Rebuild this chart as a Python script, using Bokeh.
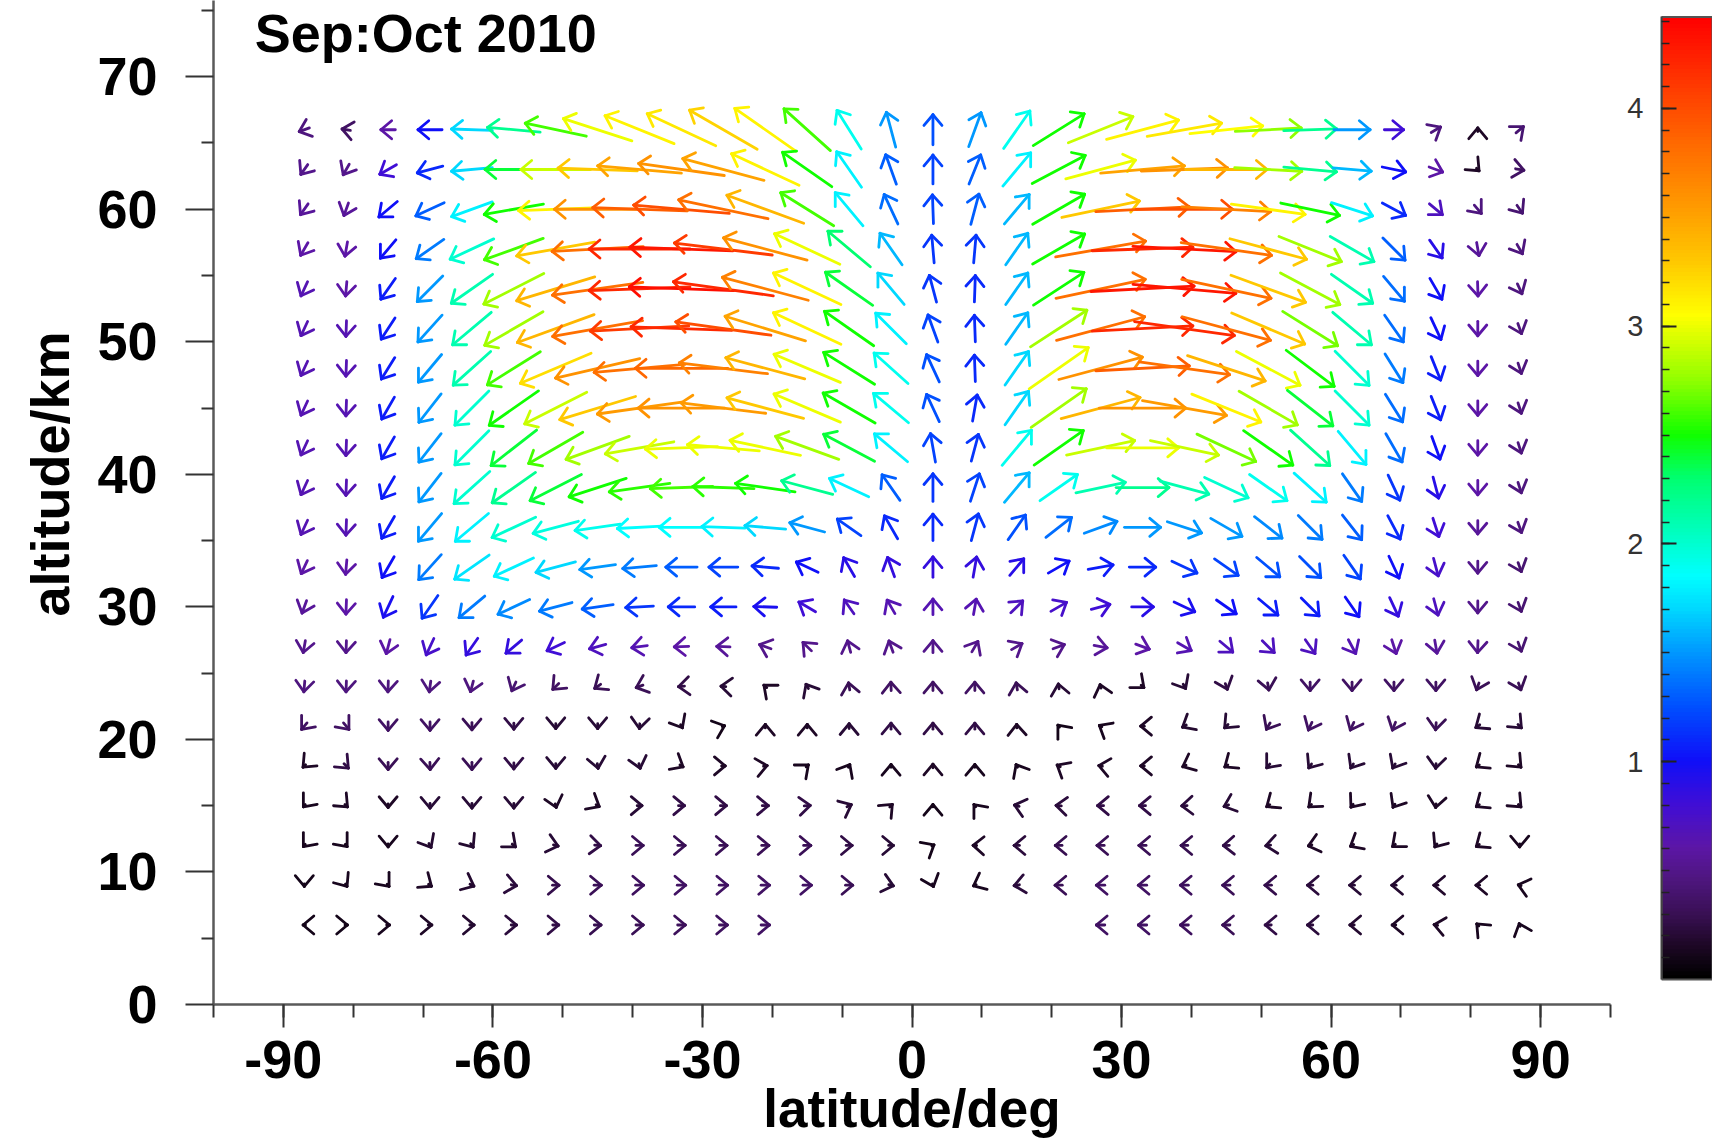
import numpy as np
from bokeh.plotting import figure
from bokeh.models import ColumnDataSource, Range1d, FixedTicker, Label, LinearColorMapper, LinearAxis, Title
from bokeh.layouts import row
from bokeh.embed import file_html
from bokeh.resources import INLINE

# ---------------- data ----------------
TITLE = "Sep:Oct 2010"
X_LABEL = "latitude/deg"
Y_LABEL = "altitude/km"
LATS = [-87, -81, -75, -69, -63, -57, -51, -45, -39, -33, -27, -21, -15, -9, -3,
        3, 9, 15, 21, 27, 33, 39, 45, 51, 57, 63, 69, 75, 81, 87]
X_TICKS = [-90, -60, -30, 0, 30, 60, 90]
X_TICK_LABELS = ["-90", "-60", "-30", "0", "30", "60", "90"]
Y_TICKS = [0, 10, 20, 30, 40, 50, 60, 70]
CB_TICKS = [1, 2, 3, 4]
SPEED_MAX = 4.42

# speed (colour scale units) and screen direction (deg, 0 = right, 90 = up) per altitude row
S66 = [0.45, 0.35, 0.6, 1.0, 1.7, 2.2, 2.6, 3.0, 3.1, 3.15, 3.25, 3.1, 2.6, 1.9, 1.5, 1.25, 1.5, 1.9, 2.5, 2.9, 3.1, 3.15, 3.05, 2.75, 2.2, 1.5, 0.8, 0.45, 0.15, 0.4]
D66 = [200, 170, 180, 180, 178, 175, 168, 162, 158, 155, 150, 145, 138, 122, 105, 90, 70, 55, 32, 22, 15, 10, 6, 3, 2, 0, 0, 30, 90, 40]
S63 = [0.5, 0.5, 0.8, 1.1, 1.7, 2.4, 2.9, 3.3, 3.5, 3.6, 3.5, 3.1, 2.5, 1.8, 1.3, 1.2, 1.3, 1.8, 2.5, 3.0, 3.5, 3.6, 3.4, 2.8, 2.2, 1.6, 1.0, 0.6, 0.15, 0.35]
D63 = [235, 240, 210, 195, 185, 180, 180, 178, 175, 172, 165, 155, 145, 125, 110, 90, 68, 50, 28, 15, 5, 2, 0, -3, -5, -5, -12, -20, -45, -10]
S60 = [0.55, 0.55, 1.0, 1.3, 1.8, 2.5, 3.1, 3.6, 3.9, 4.0, 3.8, 3.4, 2.6, 1.8, 1.35, 1.2, 1.3, 1.6, 2.5, 3.3, 3.9, 4.0, 3.7, 3.1, 2.5, 1.8, 1.1, 0.7, 0.45, 0.4]
D60 = [235, 250, 220, 205, 200, 190, 182, 180, 178, 175, 168, 160, 148, 130, 115, 92, 75, 50, 30, 12, 3, 0, -3, -8, -12, -18, -28, -40, -50, -55]
S57 = [0.6, 0.6, 1.0, 1.4, 2.0, 2.6, 3.3, 3.8, 4.2, 4.3, 4.1, 3.6, 3.0, 2.3, 1.6, 1.15, 1.15, 1.6, 2.5, 3.8, 4.2, 4.3, 3.8, 3.3, 2.8, 2.1, 1.3, 0.9, 0.55, 0.45]
D57 = [240, 260, 230, 215, 205, 200, 190, 183, 180, 178, 173, 165, 155, 140, 125, 95, 85, 55, 30, 10, 2, -3, -8, -15, -22, -30, -45, -55, -80, -60]
S54 = [0.65, 0.6, 1.05, 1.5, 2.1, 2.8, 3.4, 3.8, 4.2, 4.35, 4.2, 3.7, 3.1, 2.4, 1.7, 1.15, 1.1, 1.6, 2.5, 3.8, 4.3, 4.3, 3.8, 3.3, 2.8, 2.1, 1.35, 1.0, 0.6, 0.45]
D54 = [245, 265, 235, 225, 215, 207, 197, 188, 182, 178, 172, 165, 155, 145, 130, 105, 88, 55, 33, 12, 3, -5, -12, -20, -28, -35, -50, -60, -88, -65]
S51 = [0.65, 0.65, 1.05, 1.5, 2.1, 2.8, 3.4, 3.8, 4.1, 4.2, 4.0, 3.5, 3.1, 2.5, 1.8, 1.2, 1.1, 1.6, 2.8, 3.8, 4.2, 4.2, 3.8, 3.3, 2.7, 2.1, 1.35, 1.0, 0.6, 0.45]
D51 = [245, 268, 237, 228, 220, 210, 200, 190, 183, 178, 172, 163, 155, 145, 135, 110, 92, 55, 33, 15, 3, -8, -15, -23, -32, -40, -55, -65, -90, -70]
S48 = [0.65, 0.65, 1.05, 1.5, 2.1, 2.6, 3.2, 3.6, 3.8, 3.85, 3.7, 3.4, 3.0, 2.5, 1.9, 1.25, 1.1, 1.7, 3.0, 3.6, 3.9, 3.8, 3.4, 3.0, 2.5, 2.0, 1.4, 1.05, 0.6, 0.45]
D48 = [245, 268, 238, 230, 222, 212, 203, 193, 185, 180, 173, 165, 157, 148, 138, 115, 92, 55, 35, 15, 3, -8, -18, -28, -37, -45, -58, -68, -90, -72]
S45 = [0.65, 0.65, 1.05, 1.5, 2.0, 2.5, 2.9, 3.3, 3.55, 3.6, 3.55, 3.3, 3.0, 2.5, 1.9, 1.25, 1.1, 1.7, 2.8, 3.4, 3.6, 3.55, 3.1, 2.8, 2.4, 2.0, 1.35, 1.05, 0.6, 0.45]
D45 = [245, 268, 240, 232, 225, 215, 207, 197, 188, 180, 173, 165, 157, 150, 140, 115, 80, 55, 35, 15, 0, -10, -22, -30, -38, -45, -58, -68, -90, -72]
S42 = [0.65, 0.65, 1.05, 1.5, 2.0, 2.4, 2.6, 2.8, 2.9, 3.0, 3.0, 3.0, 2.8, 2.4, 1.8, 1.2, 1.15, 1.9, 2.5, 2.9, 3.0, 2.9, 2.7, 2.5, 2.2, 1.8, 1.35, 1.0, 0.6, 0.45]
D42 = [245, 268, 240, 232, 225, 218, 210, 200, 190, 182, 175, 168, 160, 152, 140, 100, 75, 50, 35, 12, 0, -12, -25, -35, -42, -50, -60, -70, -90, -72]
S39 = [0.65, 0.65, 1.05, 1.5, 2.0, 2.2, 2.4, 2.5, 2.55, 2.6, 2.55, 2.5, 2.2, 1.8, 1.3, 1.15, 1.2, 1.6, 1.9, 2.1, 2.2, 2.1, 2.0, 1.9, 1.8, 1.4, 1.15, 0.9, 0.6, 0.45]
D39 = [245, 268, 240, 232, 222, 215, 207, 198, 188, 182, 178, 172, 165, 155, 125, 90, 72, 50, 35, 12, 0, -15, -25, -35, -42, -55, -65, -75, -90, -72]
S36 = [0.65, 0.65, 1.05, 1.5, 1.8, 2.0, 1.95, 1.9, 1.85, 1.85, 1.8, 1.7, 1.5, 1.2, 1.1, 1.1, 1.15, 1.25, 1.35, 1.45, 1.5, 1.5, 1.5, 1.45, 1.4, 1.3, 1.1, 0.8, 0.55, 0.45]
D36 = [245, 268, 240, 230, 220, 205, 195, 188, 183, 180, 178, 175, 165, 145, 120, 90, 75, 55, 38, 20, 0, -18, -30, -38, -45, -52, -62, -72, -90, -70]
S33 = [0.6, 0.6, 1.0, 1.4, 1.75, 1.8, 1.7, 1.5, 1.4, 1.3, 1.2, 1.1, 1.0, 0.9, 0.85, 0.85, 0.85, 0.9, 1.0, 1.05, 1.1, 1.15, 1.2, 1.25, 1.25, 1.2, 1.0, 0.75, 0.5, 0.4]
D33 = [245, 265, 240, 228, 215, 205, 195, 188, 185, 180, 180, 175, 155, 120, 110, 90, 80, 50, 30, 10, 0, -25, -35, -40, -45, -55, -65, -75, -90, -70]
S30 = [0.55, 0.6, 0.95, 1.15, 1.4, 1.45, 1.4, 1.3, 1.15, 1.1, 1.05, 0.95, 0.8, 0.7, 0.65, 0.65, 0.65, 0.7, 0.75, 0.8, 0.9, 0.95, 1.0, 1.05, 1.05, 1.0, 0.85, 0.7, 0.5, 0.4]
D30 = [250, 268, 245, 235, 220, 205, 195, 188, 183, 180, 180, 178, 150, 125, 120, 90, 80, 45, 30, 15, 0, -25, -35, -40, -45, -55, -65, -75, -90, -70]
S27 = [0.5, 0.5, 0.6, 0.75, 0.85, 0.85, 0.8, 0.7, 0.65, 0.6, 0.55, 0.5, 0.5, 0.5, 0.5, 0.5, 0.5, 0.5, 0.5, 0.55, 0.6, 0.65, 0.7, 0.7, 0.7, 0.65, 0.6, 0.55, 0.5, 0.4]
D27 = [260, 268, 255, 245, 235, 220, 205, 195, 188, 182, 178, 160, 135, 105, 110, 90, 60, 30, 20, -10, -20, -30, -40, -45, -55, -62, -72, -80, -92, -70]
S24 = [0.45, 0.45, 0.45, 0.45, 0.45, 0.4, 0.35, 0.3, 0.3, 0.25, 0.2, 0.15, 0.2, 0.3, 0.35, 0.35, 0.35, 0.3, 0.2, 0.15, 0.15, 0.2, 0.25, 0.3, 0.35, 0.35, 0.35, 0.35, 0.3, 0.3]
D24 = [265, 268, 268, 262, 255, 245, 225, 215, 200, 185, 175, 140, 120, 100, 92, 90, 90, 100, 100, 105, -40, -60, -70, -80, -90, -90, -90, -90, 250, -70]
S21 = [0.35, 0.35, 0.35, 0.35, 0.3, 0.25, 0.2, 0.2, 0.2, 0.15, 0.1, 0.15, 0.15, 0.2, 0.25, 0.25, 0.25, 0.15, 0.1, 0.12, 0.15, 0.18, 0.2, 0.3, 0.35, 0.35, 0.35, 0.3, 0.2, 0.2]
D21 = [230, -50, -90, -90, -90, -90, -90, -90, -95, -60, 20, 90, 90, 90, 90, 90, 90, 92, 130, 150, 180, 210, 225, 240, 245, 245, 248, 265, 215, -45]
S18 = [0.15, 0.25, 0.3, 0.3, 0.3, 0.25, 0.2, 0.2, 0.2, 0.15, 0.15, 0.15, 0.12, 0.12, 0.12, 0.15, 0.12, 0.12, 0.15, 0.15, 0.15, 0.15, 0.15, 0.2, 0.2, 0.2, 0.2, 0.2, 0.15, 0.15]
D18 = [225, -45, -90, -88, -90, -90, -90, -80, -75, -30, 0, 10, 40, 60, 90, 90, 90, 120, 150, 170, 180, 205, 215, 230, 235, 238, 240, 265, 215, -45]
S15 = [0.12, 0.15, 0.15, 0.2, 0.2, 0.2, 0.15, 0.15, 0.2, 0.25, 0.25, 0.25, 0.25, 0.2, 0.15, 0.1, 0.12, 0.2, 0.22, 0.25, 0.25, 0.22, 0.2, 0.15, 0.15, 0.15, 0.15, 0.15, 0.15, 0.15]
D15 = [230, -45, -90, -90, -90, -90, -75, -30, 0, 0, 0, 0, 5, 25, 45, 90, 130, 165, 175, 180, 180, 183, 200, 215, 222, 232, 238, 262, 215, -45]
S12 = [0.12, 0.12, 0.12, 0.18, 0.18, 0.18, 0.2, 0.25, 0.3, 0.3, 0.3, 0.3, 0.3, 0.25, 0.2, 0.1, 0.15, 0.22, 0.28, 0.3, 0.3, 0.28, 0.25, 0.2, 0.15, 0.15, 0.15, 0.15, 0.15, 0.12]
D12 = [230, -50, -90, -60, -55, -40, -15, -5, 0, 0, 0, 0, 0, 0, 0, 30, 178, 180, 180, 180, 180, 180, 182, 188, 195, 210, 220, 235, 215, 270]
S9 = [0.1, 0.12, 0.12, 0.15, 0.18, 0.22, 0.27, 0.3, 0.33, 0.35, 0.35, 0.35, 0.35, 0.3, 0.2, 0.12, 0.12, 0.22, 0.3, 0.35, 0.35, 0.33, 0.3, 0.27, 0.22, 0.2, 0.18, 0.17, 0.15, 0.12]
D9 = [-90, -55, -50, -35, -25, -10, 0, 0, 0, 0, 0, 0, 0, 0, -15, -70, 205, 190, 180, 180, 180, 180, 180, 180, 180, 180, 180, 180, 180, 165]
S6 = [0.1, 0.1, 0.12, 0.15, 0.18, 0.22, 0.25, 0.28, 0.3, 0.32, 0.33, 0.35,
      None, None, None, None, None, None, None,
      0.35, 0.35, 0.33, 0.3, 0.25, 0.22, 0.18, 0.15, 0.15, 0.12, 0.12]
D6 = [180, 0, 0, 0, 0, 0, 0, 0, 0, 0, 0, 0,
      None, None, None, None, None, None, None,
      180, 180, 180, 180, 180, 180, 180, 180, 170, 135, 110]

ROWS = [(66, S66, D66), (63, S63, D63), (60, S60, D60), (57, S57, D57), (54, S54, D54),
        (51, S51, D51), (48, S48, D48), (45, S45, D45), (42, S42, D42), (39, S39, D39),
        (36, S36, D36), (33, S33, D33), (30, S30, D30), (27, S27, D27), (24, S24, D24),
        (21, S21, D21), (18, S18, D18), (15, S15, D15), (12, S12, D12), (9, S9, D9), (6, S6, D6)]

# ---------------- colour scale ----------------
CB_POS = [0.0, 0.15, 0.3, 0.45, 0.6, 0.8, 1.0, 1.25, 1.5, 1.7, 1.85, 2.1, 2.3, 2.5, 2.75, 3.05, 3.3, 3.55, 3.8, 4.05, 4.42]
CB_HEX = ["#000000", "#1e0826", "#3a1056", "#4e167e", "#5c16a6", "#400ed6", "#0f0ff8", "#0050ff", "#0098ff",
          "#00d8ff", "#00ffff", "#00ffb0", "#00ff70", "#10ff00", "#90ff00", "#ffff00", "#ffc800",
          "#ff9a00", "#ff7000", "#ff4400", "#ff0000"]


def _rgb(h):
    return [int(h[i:i + 2], 16) for i in (1, 3, 5)]


_RGB = np.array([_rgb(h) for h in CB_HEX], dtype=float)


def colour_of(v):
    r = np.interp(v, CB_POS, _RGB[:, 0])
    g = np.interp(v, CB_POS, _RGB[:, 1])
    b = np.interp(v, CB_POS, _RGB[:, 2])
    return "#%02x%02x%02x" % (int(round(r)), int(round(g)), int(round(b)))


PALETTE = [colour_of(SPEED_MAX * k / 255.0) for k in range(256)]

# ---------------- geometry ----------------
X_LO, X_HI = -100, 100
Y_LO, Y_HI = 0, 75.75
BORDER_L, FRAME_W, BORDER_R = 213, 1397, 5
BORDER_T, FRAME_H, BORDER_B = 0, 1004, 142
SX = FRAME_W / (X_HI - X_LO)   # px per degree
SY = FRAME_H / (Y_HI - Y_LO)   # px per km
PX_PER_UNIT = 24.0             # arrow length in px per unit speed
HEAD_PX = 14.0
HEAD_ANG = np.deg2rad(40)

x0, y0, x1, y1, col = [], [], [], [], []
for alt, S, D in ROWS:
    for lat, s, d in zip(LATS, S, D):
        if s is None:
            continue
        a = np.deg2rad(d)
        L = PX_PER_UNIT * s
        hx = 0.5 * L * np.cos(a) / SX
        hy = 0.5 * L * np.sin(a) / SY
        tx, ty = lat + hx, alt + hy
        c = colour_of(s)
        x0.append(lat - hx); y0.append(alt - hy); x1.append(tx); y1.append(ty); col.append(c)
        for w in (HEAD_ANG, -HEAD_ANG):
            b = a + np.pi + w
            x0.append(tx); y0.append(ty)
            x1.append(tx + HEAD_PX * np.cos(b) / SX)
            y1.append(ty + HEAD_PX * np.sin(b) / SY)
            col.append(c)

src = ColumnDataSource(dict(x0=x0, y0=y0, x1=x1, y1=y1, color=col))

FONT = "Liberation Sans"

p = figure(width=BORDER_L + FRAME_W + BORDER_R, height=BORDER_T + FRAME_H + BORDER_B,
           x_range=Range1d(X_LO, X_HI), y_range=Range1d(Y_LO, Y_HI),
           output_backend="svg", toolbar_location=None, title=None,
           min_border_left=BORDER_L, min_border_right=BORDER_R,
           min_border_top=BORDER_T, min_border_bottom=BORDER_B)
p.outline_line_color = None
p.grid.visible = False
p.background_fill_color = "white"
p.border_fill_color = "white"

p.segment(x0="x0", y0="y0", x1="x1", y1="y1", line_color="color", line_width=2.8,
          line_cap="round", source=src)

xa = p.xaxis[0]
xa.ticker = FixedTicker(ticks=X_TICKS, minor_ticks=list(range(-100, 101, 10)))
xa.major_label_overrides = {t: s for t, s in zip(X_TICKS, X_TICK_LABELS)}
xa.major_tick_out = 23
xa.minor_tick_out = 13
xa.major_label_standoff = 13
xa.major_label_text_line_height = 1.0
xa.axis_label = X_LABEL
xa.axis_label_text_line_height = 1.0
xa.axis_label_standoff = -2

ya = p.yaxis[0]
ya.ticker = FixedTicker(ticks=Y_TICKS, minor_ticks=list(range(5, 80, 10)))
ya.major_tick_out = 28
ya.minor_tick_out = 12
ya.major_label_standoff = 28

for ax in (xa, ya):
    ax.major_tick_in = 0
    ax.minor_tick_in = 0
    ax.axis_line_color = "#5a5a5a"
    ax.axis_line_width = 2.5
    ax.major_tick_line_color = "#333333"
    ax.major_tick_line_width = 2
    ax.minor_tick_line_color = "#333333"
    ax.minor_tick_line_width = 2
    ax.major_label_text_font = FONT
    ax.major_label_text_font_size = "54px"
    ax.major_label_text_font_style = "bold"
    ax.major_label_text_color = "black"
    ax.axis_label_text_font = FONT
    ax.axis_label_text_font_style = "bold"
    ax.axis_label_text_color = "black"
xa.axis_label_text_font_size = "53px"

# y-axis title as a side title (start-aligned with an offset, as in the reference)
p.add_layout(Title(text=Y_LABEL, align="left", offset=388, standoff=28, vertical_align="middle",
                   text_font=FONT, text_font_size="54px", text_font_style="bold",
                   text_color="black"), "left")

p.add_layout(Label(x=-94.1, y=73.32, text=TITLE, text_font=FONT, text_font_size="54px",
                   text_font_style="bold", text_color="black", text_align="left",
                   text_baseline="alphabetic"))

# ---------------- colour bar ----------------
# bar spans canvas px 16..979 of a frame 0..1004 (shared borders with the main plot)
CB_BAR_TOP_PX, CB_BAR_BOT_PX = 16.4, 979.0
CB_UNIT_PX = (CB_BAR_BOT_PX - CB_BAR_TOP_PX) / SPEED_MAX
CB_LO = -(BORDER_T + FRAME_H - CB_BAR_BOT_PX) / CB_UNIT_PX
CB_HI = SPEED_MAX + (CB_BAR_TOP_PX - BORDER_T) / CB_UNIT_PX

CB_W = 1712 - (BORDER_L + FRAME_W + BORDER_R)
cb = figure(width=CB_W, height=BORDER_T + FRAME_H + BORDER_B, x_range=Range1d(0, 1),
            y_range=Range1d(CB_LO, CB_HI),
            output_backend="svg", toolbar_location=None, title=None,
            x_axis_location=None, y_axis_location=None,
            min_border_left=46, min_border_right=0, min_border_top=BORDER_T, min_border_bottom=BORDER_B)
cb.grid.visible = False
cb.outline_line_color = None
cb.background_fill_color = "white"
grad = np.linspace(0, SPEED_MAX, 512).reshape(-1, 1)
cb.image(image=[grad], x=0, y=0, dw=1, dh=SPEED_MAX,
         color_mapper=LinearColorMapper(palette=PALETTE, low=0, high=SPEED_MAX))
cb.quad(left=0, right=1, bottom=0, top=SPEED_MAX, fill_color=None, line_color="#555555", line_width=2)
cax = LinearAxis(ticker=FixedTicker(ticks=CB_TICKS, minor_ticks=[round(0.1 * k, 1) for k in range(1, 45)]),
                 bounds=(0, SPEED_MAX))
cax.major_tick_in = 15
cax.major_tick_out = 0
cax.minor_tick_in = 8
cax.minor_tick_out = 0
cax.major_label_standoff = 18
cax.axis_line_color = "#444444"
cax.axis_line_width = 2
cax.major_tick_line_color = "#222222"
cax.major_tick_line_width = 2
cax.minor_tick_line_color = "#222222"
cax.minor_tick_line_width = 1.5
cax.major_label_text_font = FONT
cax.major_label_text_font_size = "29px"
cax.major_label_text_color = "#333333"
cb.add_layout(cax, "left")

layout = row(p, cb)
open("out.html", "w").write(file_html(layout, INLINE))
